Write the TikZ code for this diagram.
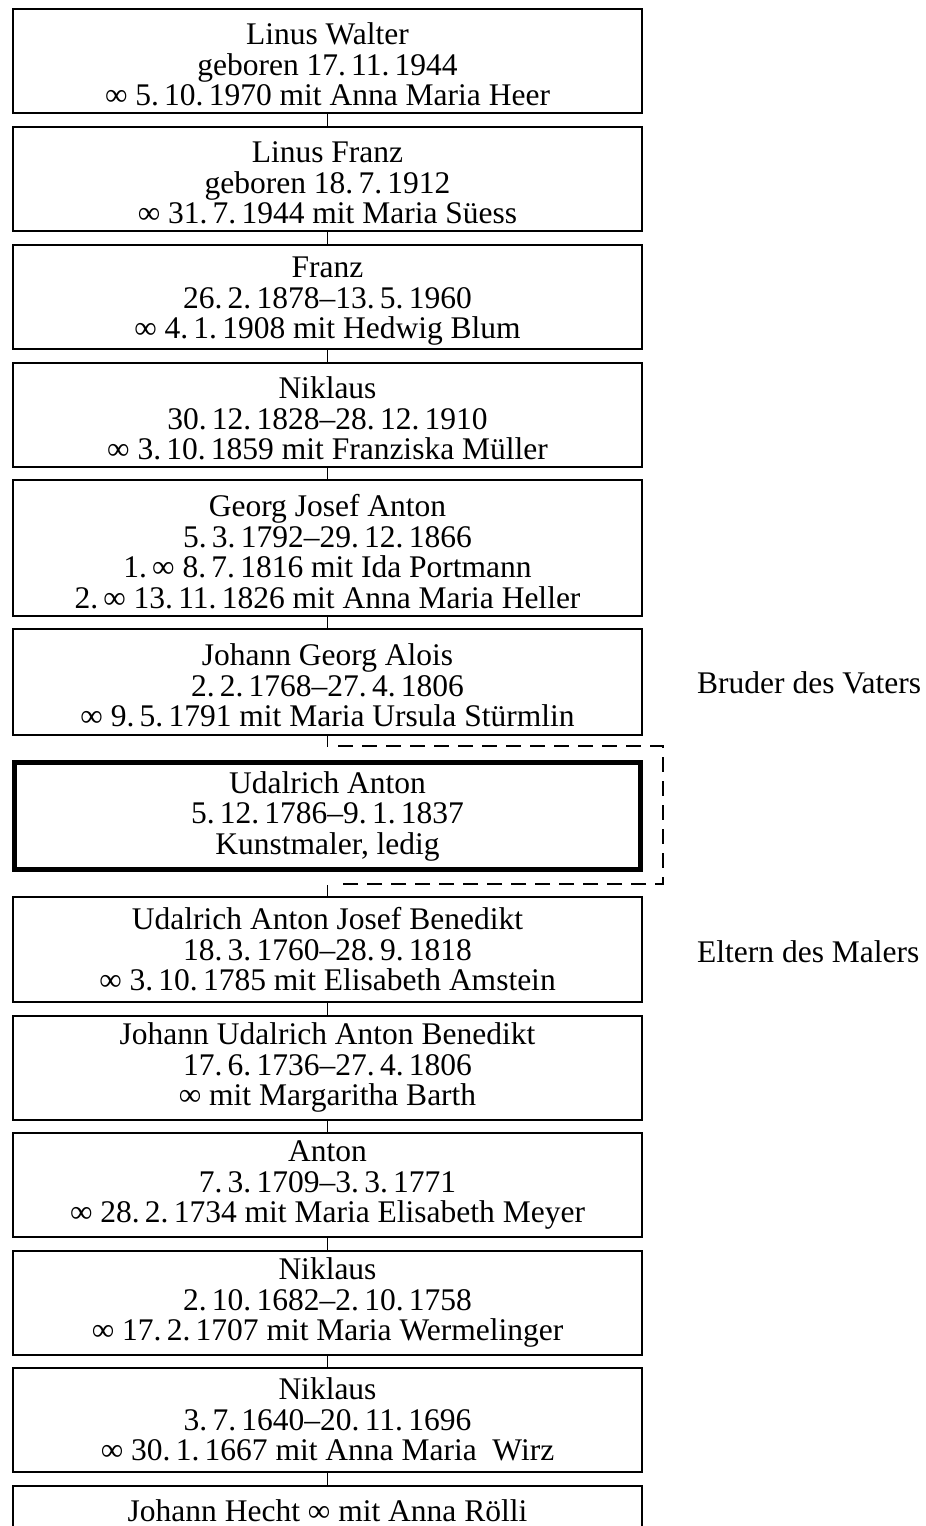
\documentclass[tikz,border=0pt]{standalone}
\usepackage{fontspec}
\setmainfont{Liberation Serif}
\usetikzlibrary{
  positioning
}

\newcommand\lift{\rule{0pt}{29pt}}

\tikzset{
  famBox/.style={draw, line width=2pt, minimum width=629pt, minimum height=104pt,
    inner sep=0pt, align=center, font=\fontsize{31.5}{30.5}\selectfont},
  painterBox/.style={famBox, line width=5pt, minimum width=626pt, minimum height=107pt},
  sideNote/.style={anchor=west, inner sep=0pt, font=\fontsize{31.5}{30.5}\selectfont},
  link/.style={line width=1.6pt},
  bracket/.style={line width=2.4pt, dash pattern=on 15pt off 9pt}
}

\begin{document}
\begin{tikzpicture}[x=1pt, y=-1pt]
  \def\Xc{327.5};
  \def\Xn{697};
  \def\Xl{338};
  \def\Xr{663};
  \useasboundingbox (0,0) rectangle (926,1526);
  \clip (0,0) rectangle (926,1526);

        \node[famBox] (linusWalter) at (\Xc, 61)
          {\lift Linus Walter\\ geboren 17.\,11.\,1944\\ ∞ 5.\,10.\,1970 mit Anna Maria Heer};
        \node[famBox] (linusFranz) at (\Xc, 179)
          {\lift Linus Franz\\ geboren 18.\,7.\,1912\\ ∞ 31.\,7.\,1944 mit Maria Süess};
        \node[famBox] (franz) at (\Xc, 297)
          {\lift Franz\\ 26.\,2.\,1878–13.\,5.\,1960\\ ∞ 4.\,1.\,1908 mit Hedwig Blum};
        \node[famBox] (niklausA) at (\Xc, 415)
          {\lift Niklaus\\ 30.\,12.\,1828–28.\,12.\,1910\\ ∞ 3.\,10.\,1859 mit Franziska Müller};
        \node[famBox, minimum height=136pt] (georgJosef) at (\Xc, 548)
          {\lift Georg Josef Anton\\ 5.\,3.\,1792–29.\,12.\,1866\\ 1.\,∞ 8.\,7.\,1816 mit Ida Portmann\\
           2.\,∞ 13.\,11.\,1826 mit Anna Maria Heller};
        \node[famBox, minimum height=106pt] (johannGeorg) at (\Xc, 682)
          {\lift Johann Georg Alois\\ 2.\,2.\,1768–27.\,4.\,1806\\ ∞ 9.\,5.\,1791 mit Maria Ursula Stürmlin};

        % der Maler
        \node[painterBox] (udalrich) at (\Xc, 816)
          {Udalrich Anton\\ 5.\,12.\,1786–9.\,1.\,1837\\ Kunstmaler, ledig};

        \node[famBox, minimum height=105pt] (udalrichJosef) at (\Xc, 949.5)
          {Udalrich Anton Josef Benedikt\\ 18.\,3.\,1760–28.\,9.\,1818\\ ∞ 3.\,10.\,1785 mit Elisabeth Amstein};
        \node[famBox] (johannUdalrich) at (\Xc, 1067.5)
          {Johann Udalrich Anton Benedikt\\ 17.\,6.\,1736–27.\,4.\,1806\\ ∞ mit Margaritha Barth};
        \node[famBox] (anton) at (\Xc, 1185)
          {Anton\\ 7.\,3.\,1709–3.\,3.\,1771\\ ∞ 28.\,2.\,1734 mit Maria Elisabeth Meyer};
        \node[famBox] (niklausB) at (\Xc, 1302.5)
          {Niklaus\\ 2.\,10.\,1682–2.\,10.\,1758\\ ∞ 17.\,2.\,1707 mit Maria Wermelinger};
        \node[famBox] (niklausC) at (\Xc, 1419.5)
          {Niklaus\\ 3.\,7.\,1640–20.\,11.\,1696\\ ∞ 30.\,1.\,1667 mit Anna Maria\enspace Wirz};
        \node[famBox, minimum height=50pt, anchor=north] (hecht) at (\Xc, 1485)
          {Johann Hecht ∞ mit Anna Rölli};

        \node[sideNote] (bruder) at (\Xn, 683) {Bruder des Vaters};
        \node[sideNote] (eltern) at (\Xn, 952) {Eltern des Malers};

	\draw[link] (linusWalter) -- (linusFranz);
	\draw[link] (linusFranz) -- (franz);
	\draw[link] (franz) -- (niklausA);
	\draw[link] (niklausA) -- (georgJosef);
	\draw[link] (georgJosef) -- (johannGeorg);
	\draw[link] (udalrichJosef) -- (johannUdalrich);
	\draw[link] (johannUdalrich) -- (anton);
	\draw[link] (anton) -- (niklausB);
	\draw[link] (niklausB) -- (niklausC);
	\draw[link] (niklausC) -- (hecht);

        % Geschwister-Klammer
        \coordinate (stubTop) at (\Xc, 747);
        \coordinate (stubBot) at (\Xc, 885);
	\draw[link] (johannGeorg) -- (stubTop);
	\draw[link] (stubBot) -- (udalrichJosef);
	\draw[bracket] (\Xl, 746) -- (\Xr, 746) -- (\Xr, 884) -- (\Xl, 884);

\end{tikzpicture}
\end{document}
